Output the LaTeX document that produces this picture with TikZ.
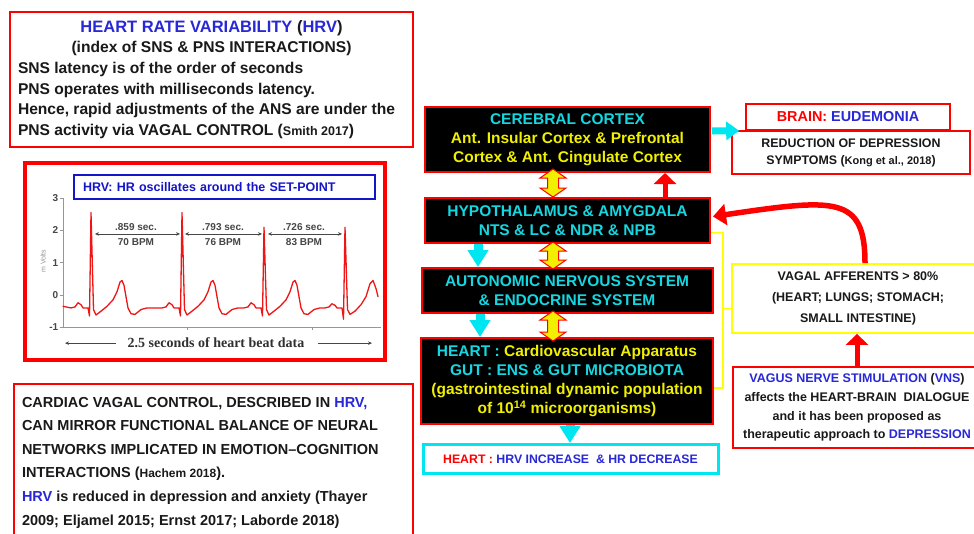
\documentclass[tikz,border=0pt]{standalone}
\usepackage{fontspec}
\setmainfont{Liberation Sans}
\newfontfamily\timesbf{Liberation Serif}
\usetikzlibrary{arrows.meta,calc}
\definecolor{bred}{RGB}{255,0,0}
\definecolor{tcyan}{RGB}{20,215,225}
\definecolor{tyellow}{RGB}{240,240,0}
\definecolor{byellow}{RGB}{255,255,0}
\definecolor{tblue}{RGB}{40,40,215}
\definecolor{lblue}{RGB}{20,20,200}
\definecolor{tdark}{RGB}{25,25,25}
\definecolor{acyan}{RGB}{0,230,240}
\definecolor{axgray}{RGB}{150,150,150}
\definecolor{lbgray}{RGB}{70,70,70}
\definecolor{ecgred}{RGB}{240,20,20}
\newcommand\fatdbl[2]{%
  \draw[dblarr] (#1) -- ++(13,9) -- ++(-7.5,0) -- ($(#2)+(5.5,-9)$) -- ++(7.5,0) -- (#2)
    -- ++(-13,-9) -- ++(7.5,0) -- ($(#1)+(-5.5,9)$) -- ++(-7.5,0) -- cycle;}
\begin{document}
\begin{tikzpicture}[x=1pt,y=-1pt,
  blk/.style={draw=bred, line width=2pt, fill=black, text=tcyan, align=center, inner sep=0pt,
    font=\bfseries\fontsize{15.5}{19}\selectfont},
  wbox/.style={draw=bred, line width=1.6pt, fill=white, text=tdark, align=center, inner sep=0pt},
  lbox/.style={draw=bred, line width=2pt, fill=white, text=tdark, inner sep=0pt},
  cyarr/.style={draw=acyan, line width=9pt, -{Triangle[length=17pt,width=20pt]}},
  cyarrh/.style={draw=acyan, line width=7pt, -{Triangle[length=13pt,width=18pt]}},
  redarr/.style={draw=bred, line width=5pt, -{Triangle[length=11pt,width=22pt]}},
  redcurve/.style={draw=bred, line width=5.5pt, -{Triangle[length=13pt,width=21pt]}},
  dblarr/.style={draw=bred, line width=1pt, fill=tyellow, line join=miter},
  ybr/.style={draw=byellow, line width=1.6pt},
  axisc/.style={draw=axgray, line width=0.6pt},
  ticklab/.style={text=lbgray, font=\bfseries\fontsize{10}{11}\selectfont, inner sep=0pt},
  ivlab/.style={text=lbgray, font=\bfseries\fontsize{10}{11}\selectfont, inner sep=0pt},
  intv/.style={draw=lbgray, line width=0.6pt, {Stealth[length=4pt,width=3.5pt]}-{Stealth[length=4pt,width=3.5pt]}},
  capar/.style={draw=lbgray, line width=0.6pt, -{Stealth[length=4pt,width=3.5pt]}},
  ecg/.style={draw=ecgred, line width=1.3pt, line join=round, line cap=round}
]
\useasboundingbox (0,0) rectangle (974,533);
\fill[white] (0,0) rectangle (974,533);

% ---------------- left column ----------------
\node[lbox, minimum width=403pt, minimum height=135pt] (tl) at (211.5,79.5)
{\begin{minipage}{387pt}\bfseries
{\centering {\fontsize{16.5}{20.6}\selectfont\textcolor{tblue}{HEART RATE VARIABILITY} (\textcolor{tblue}{HRV})}\\
\fontsize{15.6}{20.6}\selectfont (index of SNS \& PNS INTERACTIONS)\par}
{\raggedright\fontsize{15.6}{20.6}\selectfont
SNS latency is of the order of seconds\\
PNS operates with milliseconds latency.\\
Hence, rapid adjustments of the ANS are under the\\
PNS activity via VAGAL CONTROL ({\fontsize{12.5}{15}\selectfont Smith 2017})\par}
\end{minipage}};

\node[draw=bred, line width=3.5pt, minimum width=360pt, minimum height=197pt, inner sep=0pt] (ecgbox) at (205,261.5) {};
\node[draw=lblue, line width=1.5pt, minimum width=301pt, minimum height=24pt, inner sep=0pt,
  text=lblue, font=\bfseries\fontsize{12.5}{15}\selectfont, text width=283pt, align=left] (hrvlab) at (224.5,187)
  {HRV: HR oscillates around the SET-POINT};

\begin{scope}[shift={(0,295)}, y=32.3pt]
  \draw[axisc] (63,3) -- (63,-1) -- (381,-1);
  \foreach \v in {3,2,1,0,-1} {
    \draw[axisc] (59.5,\v) -- (63,\v);
    \node[ticklab, anchor=east] (tk\v) at (58.5,\v) {\v};
  }
  \draw[axisc] (187,-1) -- (187,-1.08);
  \draw[axisc] (312,-1) -- (312,-1.08);
  \node[rotate=90, text=axgray, font=\fontsize{7}{8}\selectfont, inner sep=0pt] (mv) at (43,1.05) {m Volts};
  \draw[ecg] (63,-0.35)
    foreach \s/\h in {91/2.55,182/2.55,264/2.1} {
      -- ({\s-20},-0.4) -- ({\s-16},-0.37) -- ({\s-13},-0.24) -- ({\s-10},-0.3) -- ({\s-8},-0.4)
      -- ({\s-3},-0.4) -- ({\s-1.5},-0.65) -- (\s,\h) -- ({\s+2.5},-0.45) -- ({\s+5},-0.62)
      -- ({\s+10},-0.5) -- ({\s+16},-0.35) -- ({\s+22},-0.15) -- ({\s+26},0.1) -- ({\s+29},0.4)
      -- ({\s+31},0.45) -- ({\s+33},0.3) -- ({\s+37},-0.4) -- ({\s+40},-0.58) -- ({\s+44},-0.6)
      -- ({\s+50},-0.45) -- ({\s+56},-0.4) }
    -- (325,-0.4) -- (329,-0.37) -- (332,-0.27) -- (335,-0.32) -- (337,-0.4) -- (342,-0.4)
    -- (343.5,-0.75) -- (345,2.1) -- (347.5,-0.45) -- (350,-0.6) -- (355,-0.5) -- (361,-0.3)
    -- (366,-0.05) -- (370,0.35) -- (373,0.45) -- (376,0.2) -- (378,-0.05);
  \coordinate (ia1) at (95,1.89);  \coordinate (ib1) at (180,1.89);
  \coordinate (ia2) at (185,1.89); \coordinate (ib2) at (262,1.89);
  \coordinate (ia3) at (268,1.89); \coordinate (ib3) at (342,1.89);
  \draw[intv] (ia1) -- (ib1);
  \draw[intv] (ia2) -- (ib2);
  \draw[intv] (ia3) -- (ib3);
  \node[ivlab] (s1) at (136,2.1) {.859 sec.};
  \node[ivlab] (b1) at (136,1.64) {70 BPM};
  \node[ivlab] (s2) at (223,2.1) {.793 sec.};
  \node[ivlab] (b2) at (223,1.64) {76 BPM};
  \node[ivlab] (s3) at (304,2.1) {.726 sec.};
  \node[ivlab] (b3) at (304,1.64) {83 BPM};
  \node[text=tdark!90, font=\timesbf\bfseries\fontsize{14}{16}\selectfont, inner sep=0pt] (cap) at (216,-1.49)
    {2.5 seconds of heart beat data};
  \coordinate (capl) at (65,-1.49);
  \coordinate (capr) at (372,-1.49);
  \draw[capar] ($(cap.west)+(-12,0)$) -- (capl);
  \draw[capar] ($(cap.east)+(14,0)$) -- (capr);
\end{scope}

\node[lbox, minimum width=399pt, minimum height=157pt] (bl) at (213.5,462.5)
{\begin{minipage}{383pt}\raggedright\bfseries\fontsize{14.5}{23.6}\selectfont
CARDIAC VAGAL CONTROL, DESCRIBED IN \textcolor{tblue}{HRV,}\\
CAN MIRROR FUNCTIONAL BALANCE OF NEURAL\\
NETWORKS IMPLICATED IN EMOTION–COGNITION\\
INTERACTIONS ({\fontsize{12}{15}\selectfont Hachem 2018}).\\
\textcolor{tblue}{HRV} is reduced in depression and anxiety (Thayer\\
2009; Eljamel 2015; Ernst 2017; Laborde 2018)
\end{minipage}};

% ---------------- right column ----------------
\node[blk, minimum width=285pt, minimum height=65pt] (cc) at (567.5,139.5)
  {CEREBRAL CORTEX\\ \textcolor{tyellow}{Ant. Insular Cortex \& Prefrontal}\\ \textcolor{tyellow}{Cortex \& Ant. Cingulate Cortex}};
\node[blk, minimum width=285pt, minimum height=45pt] (hy) at (567.5,220.5)
  {HYPOTHALAMUS \& AMYGDALA\\ NTS \& LC \& NDR \& NPB};
\node[blk, minimum width=291pt, minimum height=45pt] (ans) at (567,290.5)
  {AUTONOMIC NERVOUS SYSTEM\\ \& ENDOCRINE SYSTEM};
\node[blk, minimum width=292pt, minimum height=86pt] (hrt) at (567,381)
  {HEART : \textcolor{tyellow}{Cardiovascular Apparatus}\\ GUT : ENS \& GUT MICROBIOTA\\
   \textcolor{tyellow}{(gastrointestinal dynamic population}\\
   \textcolor{tyellow}{of 10\textsuperscript{14} microorganisms)}};
\node[draw=acyan, line width=3pt, fill=white, minimum width=295pt, minimum height=29pt, inner sep=0pt,
  font=\bfseries\fontsize{12.3}{15}\selectfont] (hrv) at (570.5,459)
  {\textcolor{bred}{HEART :} \textcolor{tblue}{HRV INCREASE \ \& HR DECREASE}};

\node[wbox, minimum width=238pt, minimum height=43pt, font=\bfseries\fontsize{12.4}{17}\selectfont] (red) at (851,152.5)
  {REDUCTION OF DEPRESSION\\ SYMPTOMS ({\fontsize{11}{13}\selectfont Kong et al., 2018})};
\node[wbox, minimum width=204pt, minimum height=26pt, font=\bfseries\fontsize{14.4}{17}\selectfont] (brain) at (848,117)
  {\textcolor{bred}{BRAIN:} \textcolor{tblue}{EUDEMONIA}};
\node[wbox, draw=byellow, line width=1.8pt, minimum width=252pt, minimum height=69pt,
  font=\bfseries\fontsize{12.5}{21}\selectfont] (vag) at (858,298.5)
  {VAGAL AFFERENTS > 80\%\\ (HEART; LUNGS; STOMACH;\\ SMALL INTESTINE)};
\node[wbox, minimum width=248pt, minimum height=81pt, font=\bfseries\fontsize{12.5}{18.8}\selectfont] (vns) at (857,407.5)
  {\textcolor{tblue}{VAGUS NERVE STIMULATION} (\textcolor{tblue}{VNS})\\
   affects the HEART-BRAIN \ DIALOGUE\\ and it has been proposed as\\
   therapeutic approach to \textcolor{tblue}{DEPRESSION}};

% ---------------- connectors ----------------
% yellow bracket
\coordinate (yb1) at ($(hy.east)+(0,12)$);
\coordinate (yb2) at ($(hrt.east)+(0,7)$);
\coordinate (ybx) at ($(yb1)+(12,0)$);
\coordinate (ybt) at ($(vag.west)+(0,10)$);
\draw[ybr] (yb1) -- (ybx) |- (yb2);
\draw[ybr] (ybt -| ybx) -- (ybt);

% cyan arrows
\coordinate (c1) at ($(hy.south)+(-89.5,0)$);
\draw[cyarr] (c1) -- (c1 |- ans.north);
\coordinate (c2) at ($(ans.south)+(-87,0)$);
\draw[cyarr] (c2) -- (c2 |- hrt.north);
\coordinate (c3) at ($(hrt.south)+(3,0)$);
\draw[cyarr] (c3) -- (c3 |- hrv.north);
\draw[cyarrh] ($(cc.east)+(1,-8.5)$) -- ($(brain.south west)+(-6,0)$);

% red arrows
\coordinate (r1) at ($(hy.north)+(97.5,0)$);
\draw[redarr] (r1) -- (r1 |- cc.south);
\draw[redarr] (vns.north) -- (vns.north |- vag.south);
\coordinate (rc0) at ($(vag.north)+(7,0)$);
\coordinate (rc1) at ($(hy.east)+(2,-4)$);
\draw[redcurve] (rc0) .. controls +(0,-68) and +(122,-18) .. (rc1);

% fat double arrows
\coordinate (d1t) at ($(cc.south)+(-14.5,-4)$);
\coordinate (d1b) at ($(hy.north)+(-14.5,0)$);
\fatdbl{d1t}{d1b}
\coordinate (d2t) at ($(hy.south)+(-14.5,-2)$);
\coordinate (d2b) at ($(ans.north)+(-14,2)$);
\fatdbl{d2t}{d2b}
\coordinate (d3t) at ($(ans.south)+(-14,-3)$);
\coordinate (d3b) at ($(hrt.north)+(-14,4)$);
\fatdbl{d3t}{d3b}
\end{tikzpicture}
\end{document}
